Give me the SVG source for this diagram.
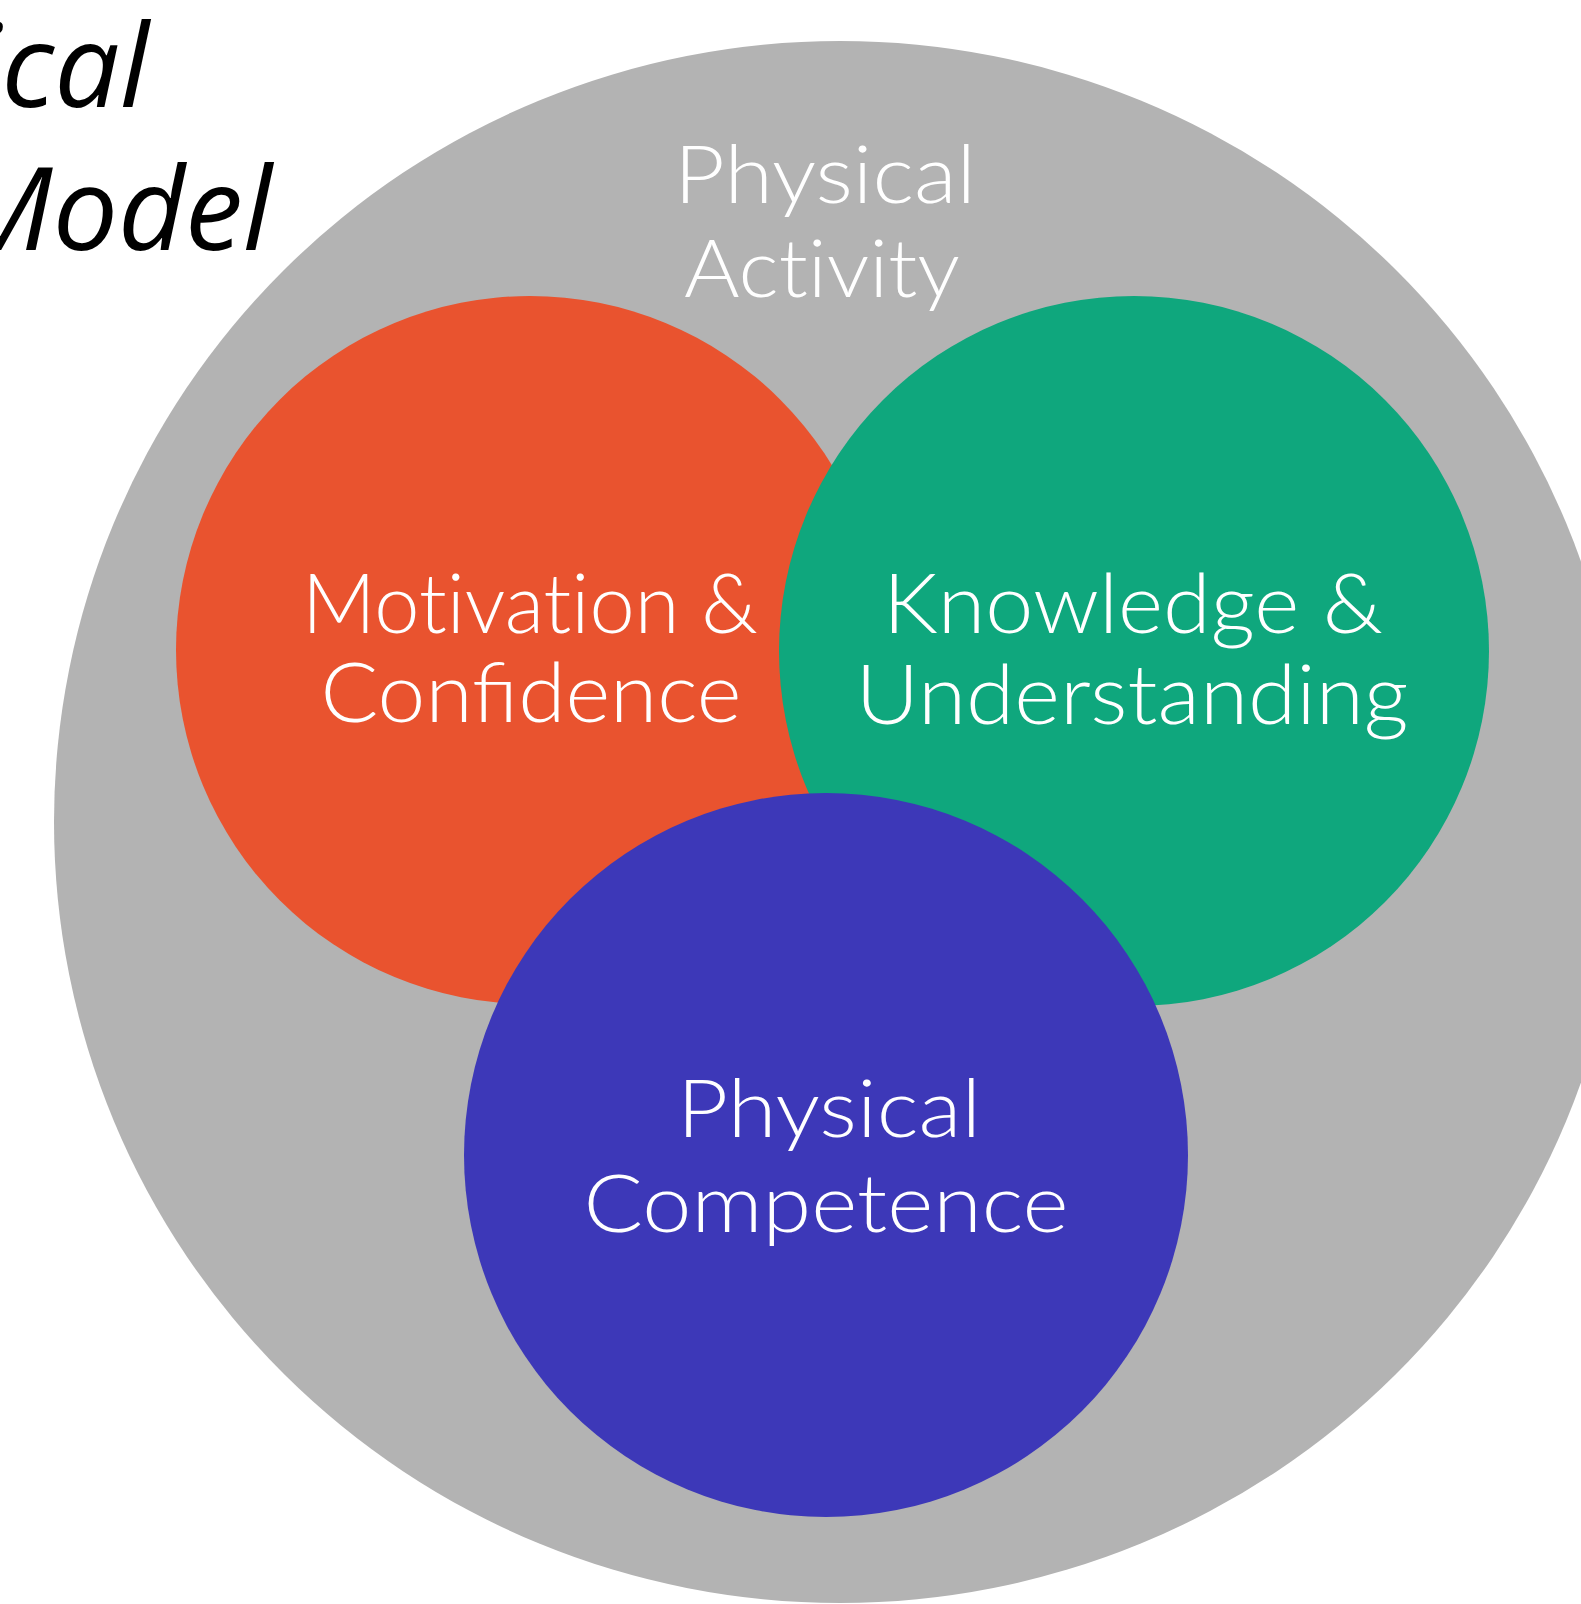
<svg xmlns="http://www.w3.org/2000/svg" width="1581" height="1604" viewBox="0 0 1581 1604">
  <style>
    .label { font-family: Lato, "Open Sans", "Liberation Sans", sans-serif; font-weight: 300; fill: #ffffff; text-anchor: middle; }
    .nolig { font-variant-ligatures: none; }
    .title { font-family: "Open Sans", "Liberation Sans", sans-serif; font-style: italic; font-size: 116px; fill: #000000; text-anchor: end; }
  </style>
  <rect width="1581" height="1604" fill="#ffffff"/>

  <!-- heading fragment at top left -->
  <g id="heading">
    <text class="title" x="149" y="107">ical</text>
    <text class="title" x="272" y="250">Model</text>
  </g>

  <!-- outer domain: physical activity -->
  <g id="physical-activity">
    <ellipse cx="840" cy="822" rx="786" ry="781" fill="#b3b3b3"/>
    <text class="label" x="825" y="203" font-size="80" textLength="302" lengthAdjust="spacingAndGlyphs">Physical</text>
    <text class="label nolig" x="822" y="297" font-size="80" textLength="276" lengthAdjust="spacingAndGlyphs">Activity</text>
  </g>

  <g id="motivation-confidence">
    <circle cx="530" cy="650" r="354" fill="#e9532f"/>
    <text class="label nolig" x="530" y="633" font-size="83" textLength="456" lengthAdjust="spacingAndGlyphs">Motivation &amp;</text>
    <text class="label" x="531" y="722" font-size="83" textLength="421" lengthAdjust="spacingAndGlyphs">Confidence</text>
  </g>

  <g id="knowledge-understanding">
    <circle cx="1134" cy="651" r="355" fill="#0fa77d"/>
    <text class="label" x="1133" y="633" font-size="83" textLength="500" lengthAdjust="spacingAndGlyphs">Knowledge &amp;</text>
    <text class="label" x="1132" y="724" font-size="83" textLength="553" lengthAdjust="spacingAndGlyphs">Understanding</text>
  </g>

  <g id="physical-competence">
    <circle cx="826" cy="1155" r="362" fill="#3d38b8"/>
    <text class="label" x="829" y="1137" font-size="81" textLength="304" lengthAdjust="spacingAndGlyphs">Physical</text>
    <text class="label" x="826" y="1232" font-size="81" textLength="485" lengthAdjust="spacingAndGlyphs">Competence</text>
  </g>

  <g id="connectors"/>
</svg>
